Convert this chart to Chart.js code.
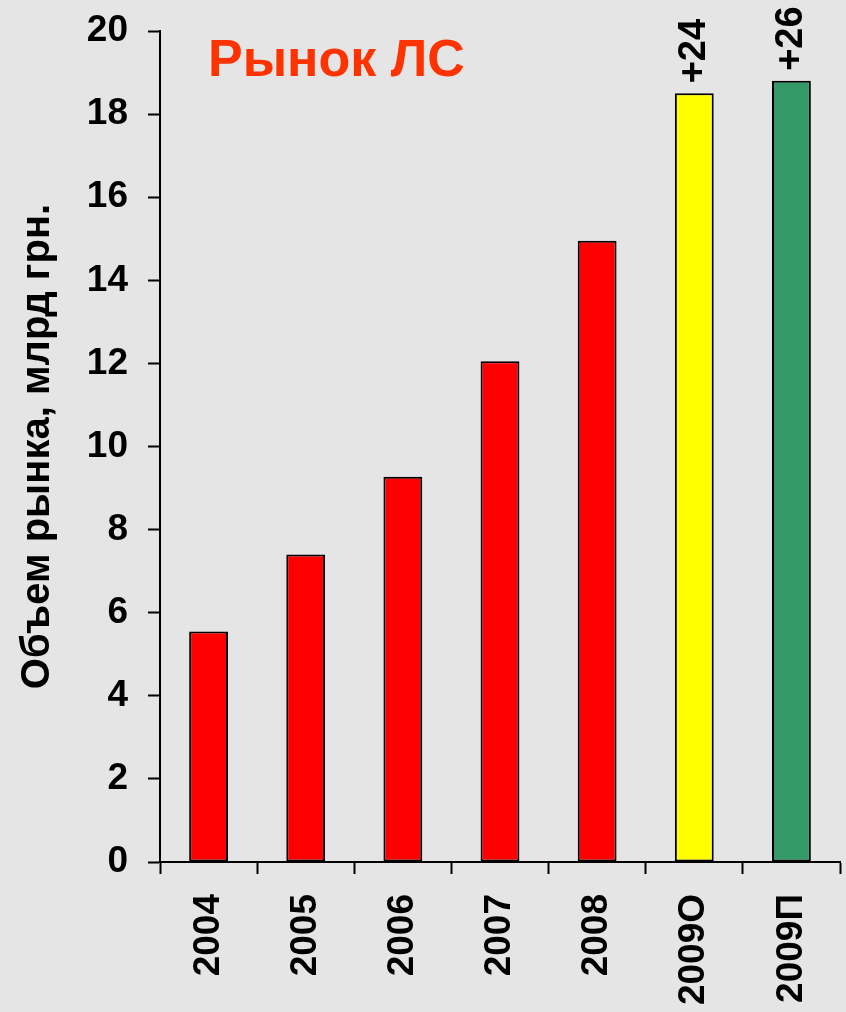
<!DOCTYPE html>
<html lang="ru">
<head>
<meta charset="UTF-8">
<title>Рынок ЛС</title>
<script src="https://cdn.jsdelivr.net/npm/chart.js@4.4.2/dist/chart.umd.min.js"></script>
<style>
  html, body { margin: 0; padding: 0; background: #e5e5e5; }
  #wrap { width: 846px; height: 1012px; }
</style>
</head>
<body>
<div id="wrap"><canvas id="marketChart" width="846" height="1012"></canvas></div>
<script>
// data
const years = ['2004', '2005', '2006', '2007', '2008', '2009О', '2009П'];
const marketVolume = [5.55, 7.4, 9.27, 12.05, 14.95, 18.5, 18.8];
const barColors = ['#ff0000', '#ff0000', '#ff0000', '#ff0000', '#ff0000', '#ffff00', '#339966'];
const growthLabels = ['', '', '', '', '', '+24', '+26'];
const yTicks = [0, 2, 4, 6, 8, 10, 12, 14, 16, 18, 20];
const chartTitle = 'Рынок ЛС';
const yTitle = 'Объем рынка, млрд грн.';

const FONT = 'Arial, "Liberation Sans", sans-serif';

// background + title + growth labels
const decor = {
  id: 'decor',
  beforeDraw(chart) {
    const c = chart.ctx;
    c.save();
    c.fillStyle = '#e5e5e5';
    c.fillRect(0, 0, chart.width, chart.height);
    c.restore();
  },
  afterDatasetsDraw(chart) {
    const c = chart.ctx;
    const area = chart.chartArea;
    c.save();
    c.fillStyle = '#ff3300';
    c.font = 'bold 52px ' + FONT;
    c.textAlign = 'left';
    c.textBaseline = 'alphabetic';
    c.fillText(chartTitle, area.left + 48, area.top + 45);

    const bars = chart.getDatasetMeta(0).data;
    c.fillStyle = '#000';
    c.font = 'bold 38px ' + FONT;
    c.textAlign = 'left';
    c.textBaseline = 'middle';
    bars.forEach((bar, i) => {
      if (!growthLabels[i]) return;
      c.save();
      c.translate(bar.x, bar.y - 10);
      c.rotate(-Math.PI / 2);
      c.fillText(growthLabels[i], 0, 0);
      c.restore();
    });
    c.restore();
  }
};

new Chart(document.getElementById('marketChart'), {
  type: 'bar',
  data: {
    labels: years,
    datasets: [{
      data: marketVolume,
      backgroundColor: barColors,
      borderColor: '#000',
      borderWidth: 2,
      borderSkipped: false,
      barPercentage: 0.4,
      categoryPercentage: 1
    }]
  },
  options: {
    responsive: false,
    animation: false,
    layout: { padding: { top: 31, right: 6, left: 0, bottom: 0 } },
    plugins: { legend: { display: false }, tooltip: { enabled: false } },
    scales: {
      x: {
        grid: { display: true, offset: true, drawOnChartArea: false, tickLength: 12, tickColor: '#000', tickWidth: 2 },
        border: { display: true, color: '#000', width: 2 },
        ticks: {
          color: '#000', font: { family: FONT, size: 37, weight: 'bold' },
          minRotation: 90, maxRotation: 90, padding: 20
        },
        afterFit(scale) {
          scale.height = 150;
          scale.paddingLeft = 0;
          scale.paddingRight = 0;
        }
      },
      y: {
        min: 0, max: 20,
        afterBuildTicks(scale) { scale.ticks = yTicks.map(v => ({ value: v })); },
        grid: { display: true, drawOnChartArea: false, tickLength: 12, tickColor: '#000', tickWidth: 2 },
        border: { display: true, color: '#000', width: 2 },
        ticks: { color: '#000', font: { family: FONT, size: 37, weight: 'bold' }, padding: 20 },
        title: {
          display: true, text: yTitle, color: '#000',
          font: { family: FONT, size: 40, weight: 'bold' },
          padding: { top: 14, bottom: 0 }
        },
        afterFit(scale) {
          scale.width = 160;
          scale.paddingTop = 0;
          scale.paddingBottom = 0;
        }
      }
    }
  },
  plugins: [decor]
});
</script>
</body>
</html>
